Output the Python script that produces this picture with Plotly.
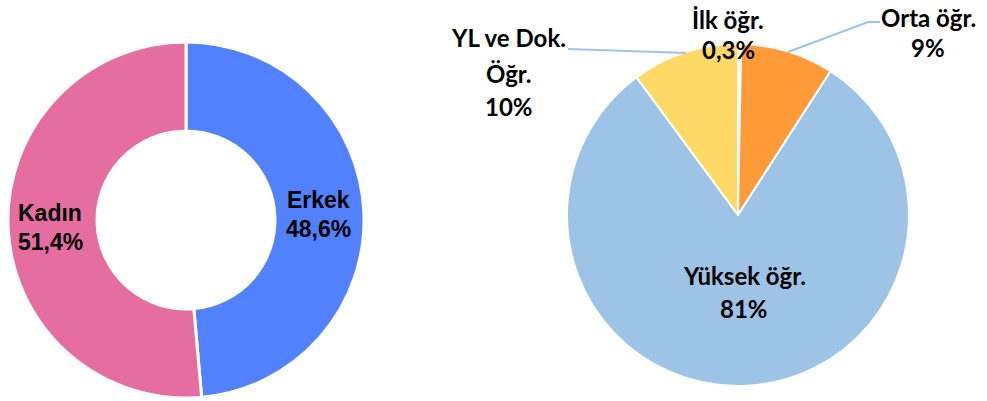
import plotly.graph_objects as go

W, H = 987, 401

# ---- data ----
gender_labels = ["Erkek", "Kadın"]
gender_values = [48.6, 51.4]
gender_text = ["48,6%", "51,4%"]
gender_colors = ["#5281FD", "#E66DA0"]

edu_labels = ["İlk öğr.", "Orta öğr.", "Yüksek öğr.", "YL ve Dok.<br>Öğr."]
edu_values = [0.3, 8.8, 80.8, 10.1]
edu_text = ["0,3%", "9%", "81%", "10%"]
edu_colors = ["#FFFFFF", "#FF9A38", "#9DC3E6", "#FFD966"]

def px(x):
    return x / W

def py(y):
    return 1 - y / H

fig = go.Figure()
fig.add_trace(go.Pie(
    labels=gender_labels, values=gender_values, hole=0.5, sort=False,
    direction="clockwise", rotation=0, textinfo="none", hoverinfo="label+percent",
    marker=dict(colors=gender_colors, line=dict(color="white", width=3)),
    domain=dict(x=[px(8), px(364)], y=[py(398), py(42)]), showlegend=False,
))
fig.add_trace(go.Pie(
    labels=edu_labels, values=edu_values, sort=False,
    direction="clockwise", rotation=0, textinfo="none", hoverinfo="label+percent",
    marker=dict(colors=edu_colors, line=dict(color="white", width=2)),
    domain=dict(x=[px(567), px(909)], y=[py(386), py(44)]), showlegend=False,
))

# label placement (pixel centres of each line)
gender_pos = [(50, [213, 242]), (318, [200, 229])]
gender_order = [1, 0]
edu_pos = [(728, [19, 49]), (928, [17, 47]), (744, [275, 308]), (509, [38, 73, 107])]

annotations = []
lf = dict(family="'Liberation Sans', Arial, Helvetica, sans-serif", size=23, color="#000000")
for (x, ys), i in zip(gender_pos, gender_order):
    lines = gender_labels[i].split("<br>") + [gender_text[i]]
    for yy, s in zip(ys, lines):
        annotations.append(dict(x=px(x), y=py(yy), xref="paper", yref="paper", text="<b>%s</b>" % s,
                                showarrow=False, font=lf, xanchor="center", yanchor="middle"))
rf = dict(family="Lato", size=24, color="#000000")
for (x, ys), lab, t in zip(edu_pos, edu_labels, edu_text):
    lines = lab.split("<br>") + [t]
    for yy, s in zip(ys, lines):
        annotations.append(dict(x=px(x), y=py(yy), xref="paper", yref="paper", text="<b>%s</b>" % s,
                                showarrow=False, font=rf, xanchor="center", yanchor="middle"))

lc = "#9DC3E6"
shapes = [
    dict(type="path", xref="paper", yref="paper",
         path="M %f %f L %f %f L %f %f" % (px(788), py(52), px(868), py(22), px(880), py(22)),
         line=dict(color=lc, width=2)),
    dict(type="line", xref="paper", yref="paper", x0=px(568), y0=py(49), x1=px(686), y1=py(53),
         line=dict(color=lc, width=2)),
]

fig.update_layout(
    width=W, height=H, margin=dict(l=0, r=0, t=0, b=0),
    paper_bgcolor="white", plot_bgcolor="white",
    annotations=annotations, shapes=shapes,
)
fig.write_html("out.html", config={"displayModeBar": False},
               post_script="document.body.style.margin='0';")
